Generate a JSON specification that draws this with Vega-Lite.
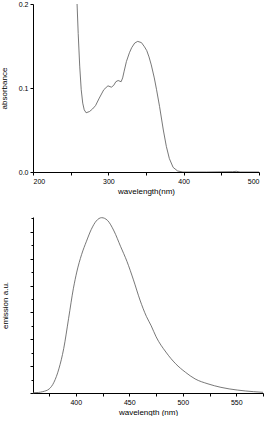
{
  "$schema": "https://vega.github.io/schema/vega-lite/v6.json",
  "padding": {"left": 0, "top": 0, "right": 0, "bottom": 0},
  "background": "white",
  "spacing": 21,
  "datasets": {
    "abs": [
      {"wl": 258.5, "a": 0.2},
      {"wl": 260, "a": 0.165},
      {"wl": 262, "a": 0.126},
      {"wl": 264, "a": 0.098},
      {"wl": 266, "a": 0.082},
      {"wl": 268, "a": 0.074},
      {"wl": 270.5, "a": 0.0705},
      {"wl": 275, "a": 0.072},
      {"wl": 279, "a": 0.075},
      {"wl": 283, "a": 0.079},
      {"wl": 288, "a": 0.088},
      {"wl": 294, "a": 0.098},
      {"wl": 299.5, "a": 0.1026},
      {"wl": 304, "a": 0.101},
      {"wl": 307, "a": 0.103},
      {"wl": 310, "a": 0.1075},
      {"wl": 313, "a": 0.1089},
      {"wl": 317, "a": 0.1075},
      {"wl": 319, "a": 0.112},
      {"wl": 321, "a": 0.12},
      {"wl": 324, "a": 0.1315},
      {"wl": 328, "a": 0.142},
      {"wl": 331, "a": 0.148},
      {"wl": 335, "a": 0.1535},
      {"wl": 339, "a": 0.1555},
      {"wl": 344, "a": 0.154},
      {"wl": 348, "a": 0.149},
      {"wl": 351, "a": 0.1445},
      {"wl": 354, "a": 0.137},
      {"wl": 357, "a": 0.1275},
      {"wl": 361, "a": 0.112},
      {"wl": 364, "a": 0.098},
      {"wl": 368, "a": 0.078},
      {"wl": 373, "a": 0.050},
      {"wl": 377, "a": 0.0305},
      {"wl": 381, "a": 0.016},
      {"wl": 386, "a": 0.0055},
      {"wl": 392, "a": 0.0012},
      {"wl": 399, "a": 0.0},
      {"wl": 430, "a": 0.0},
      {"wl": 465, "a": 0.0004},
      {"wl": 470, "a": 0.0008},
      {"wl": 475, "a": 0.0},
      {"wl": 500, "a": 0.0}
    ],
    "em": [
      {"wl": 360, "e": 0.01},
      {"wl": 365, "e": 0.02},
      {"wl": 369.1, "e": 0.05},
      {"wl": 375.1, "e": 0.15},
      {"wl": 379.6, "e": 0.4},
      {"wl": 384.2, "e": 0.9},
      {"wl": 388.7, "e": 1.65},
      {"wl": 393.3, "e": 2.78},
      {"wl": 397.8, "e": 3.9},
      {"wl": 400.9, "e": 4.5},
      {"wl": 405.4, "e": 5.15},
      {"wl": 410, "e": 5.65},
      {"wl": 414.5, "e": 6.09},
      {"wl": 419.1, "e": 6.4},
      {"wl": 424.2, "e": 6.525},
      {"wl": 429.6, "e": 6.425},
      {"wl": 435.7, "e": 6.03},
      {"wl": 441.8, "e": 5.46},
      {"wl": 447.8, "e": 4.9},
      {"wl": 453.9, "e": 4.21},
      {"wl": 460, "e": 3.46},
      {"wl": 466, "e": 2.85},
      {"wl": 470.5, "e": 2.5},
      {"wl": 475.1, "e": 2.09},
      {"wl": 484.2, "e": 1.525},
      {"wl": 493.3, "e": 1.09},
      {"wl": 502.4, "e": 0.775},
      {"wl": 511.5, "e": 0.525},
      {"wl": 523.6, "e": 0.34},
      {"wl": 535.7, "e": 0.21},
      {"wl": 550.9, "e": 0.11},
      {"wl": 566, "e": 0.05},
      {"wl": 575, "e": 0.025}
    ]
  },
  "config": {
    "view": {"stroke": null},
    "font": "Liberation Sans",
    "axis": {
      "grid": false,
      "domainColor": "#000",
      "domainWidth": 1,
      "tickColor": "#000",
      "labelColor": "#000",
      "titleColor": "#000",
      "labelFontSize": 7,
      "titleFontSize": 8,
      "titleFontWeight": "normal",
      "labelPadding": 2
    }
  },
  "vconcat": [
    {
      "width": 226,
      "height": 168,
      "data": {"name": "abs"},
      "mark": {"type": "line", "color": "#555", "strokeWidth": 0.8, "clip": true},
      "encoding": {
        "x": {
          "field": "wl", "type": "quantitative",
          "scale": {"domain": [200, 500], "nice": false},
          "axis": {
            "title": "wavelength(nm)",
            "values": [200, 250, 300, 350, 400, 450, 500],
            "labelExpr": "datum.value % 100 === 0 ? datum.label : ''",
            "tickSize": 3,
            "titlePadding": 3
          }
        },
        "y": {
          "field": "a", "type": "quantitative",
          "scale": {"domain": [0, 0.2], "nice": false},
          "axis": {
            "title": "absorbance",
            "values": [0, 0.1, 0.2],
            "format": ".1f",
            "tickSize": 3,
            "titlePadding": 9.5
          }
        }
      }
    },
    {
      "width": 230,
      "height": 176,
      "data": {"name": "em"},
      "mark": {"type": "line", "color": "#555", "strokeWidth": 0.8, "interpolate": "monotone"},
      "encoding": {
        "x": {
          "field": "wl", "type": "quantitative",
          "scale": {"domain": [360, 575], "nice": false},
          "axis": {
            "title": "wavelength (nm)",
            "values": [375, 400, 425, 450, 475, 500, 525, 550, 575],
            "labelExpr": "datum.value % 50 === 0 ? datum.label : ''",
            "tickSize": 3,
            "titlePadding": 3
          }
        },
        "y": {
          "field": "e", "type": "quantitative",
          "scale": {"domain": [0, 6.55], "nice": false},
          "axis": {
            "title": "emission a.u.",
            "labels": false,
            "values": [0, 0.5, 1, 1.5, 2, 2.5, 3, 3.5, 4, 4.5, 5, 5.5, 6, 6.5],
            "tickSize": {"condition": {"test": "datum.value % 1 === 0", "value": 3}, "value": 2},
            "titlePadding": 20
          }
        }
      }
    }
  ]
}
